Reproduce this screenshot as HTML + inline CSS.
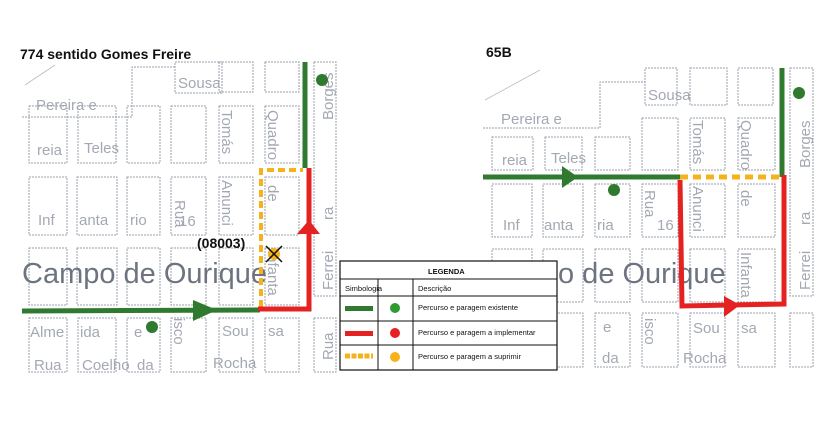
<!DOCTYPE html>
<html><head><meta charset="utf-8"><style>
body{margin:0;background:#fff;width:826px;height:430px;overflow:hidden}
svg{display:block}
.b{fill:none;stroke:#9aa0aa;stroke-width:1;stroke-dasharray:2 1}
.t{font-family:"Liberation Sans",sans-serif;fill:#a3a8b2;font-size:15px}
.c{font-family:"Liberation Sans",sans-serif;fill:#6d7480;font-size:29px}
.h{font-family:"Liberation Sans",sans-serif;font-weight:bold;fill:#111;font-size:14px}
.l{font-family:"Liberation Sans",sans-serif;fill:#111;font-size:7.5px}
</style></head><body>
<svg width="826" height="430" viewBox="0 0 826 430">
<text class="h" x="20" y="59">774 sentido Gomes Freire</text>
<text class="h" x="486" y="57">65B</text>

<!-- LEFT MAP -->
<g>
<polyline class="b" points="22,117 132,117 132,67 175,67"/>
<line x1="25" y1="85" x2="55" y2="65" stroke="#bbb" stroke-width="0.8"/>
<rect class="b" x="175" y="62" width="47" height="31"/>
<rect class="b" x="219" y="62" width="34" height="30"/>
<rect class="b" x="265" y="62" width="34" height="30"/>
<g>
<rect class="b" x="29" y="106" width="38" height="57"/><rect class="b" x="78" y="106" width="38" height="57"/>
<rect class="b" x="127" y="106" width="33" height="57"/><rect class="b" x="171" y="106" width="35" height="57"/>
<rect class="b" x="219" y="106" width="34" height="57"/><rect class="b" x="265" y="106" width="34" height="57"/>
</g>
<g>
<rect class="b" x="29" y="177" width="38" height="58"/><rect class="b" x="77" y="177" width="40" height="58"/>
<rect class="b" x="127" y="177" width="33" height="58"/><rect class="b" x="171" y="177" width="35" height="58"/>
<rect class="b" x="219" y="177" width="34" height="58"/><rect class="b" x="265" y="177" width="34" height="58"/>
</g>
<g>
<rect class="b" x="29" y="248" width="38" height="57"/><rect class="b" x="77" y="248" width="40" height="57"/>
<rect class="b" x="127" y="248" width="33" height="57"/><rect class="b" x="171" y="248" width="35" height="57"/>
<rect class="b" x="219" y="248" width="34" height="57"/><rect class="b" x="265" y="248" width="34" height="57"/>
</g>
<g>
<rect class="b" x="29" y="318" width="38" height="54"/><rect class="b" x="78" y="318" width="38" height="54"/>
<rect class="b" x="127" y="318" width="33" height="54"/><rect class="b" x="171" y="318" width="35" height="54"/>
<rect class="b" x="219" y="318" width="34" height="54"/><rect class="b" x="265" y="318" width="34" height="54"/>
</g>
<rect class="b" x="314" y="62" width="22" height="234"/>
<rect class="b" x="314" y="318" width="22" height="54"/>
<text class="t" x="178" y="88">Sousa</text>
<text class="t" x="36" y="110">Pereira e</text>
<text class="t" x="37" y="155">reia</text>
<text class="t" x="84" y="153">Teles</text>
<text class="t" x="38" y="225">Inf</text>
<text class="t" x="79" y="225">anta</text>
<text class="t" x="130" y="225">rio</text>
<text class="t" x="179" y="226">16</text>
<text class="t" transform="translate(175,200) rotate(90)">Rua</text>
<text class="t" transform="translate(222,110) rotate(90)">Tomás</text>
<text class="t" transform="translate(268,110) rotate(90)">Quadro</text>
<text class="t" transform="translate(222,180) rotate(90)">Anunci</text>
<text class="t" transform="translate(268,185) rotate(90)">de</text>
<text class="t" transform="translate(268,250) rotate(90)">Infanta</text>
<text class="t" transform="translate(333,120) rotate(-90)">Borges</text>
<text class="t" transform="translate(333,220) rotate(-90)">ra</text>
<text class="t" transform="translate(333,290) rotate(-90)">Ferrei</text>
<text class="t" transform="translate(333,360) rotate(-90)">Rua</text>
<text class="t" transform="translate(174,318) rotate(90)">isco</text>
<text class="t" x="30" y="337">Alme</text><text class="t" x="80" y="337">ida</text><text class="t" x="134" y="337">e</text>
<text class="t" x="222" y="336">Sou</text><text class="t" x="268" y="336">sa</text>
<text class="t" x="34" y="370">Rua</text><text class="t" x="82" y="370">Coelho</text><text class="t" x="137" y="370">da</text>
<text class="t" x="213" y="368">Rocha</text>
<text class="c" x="22" y="283">Campo de Ourique</text>
<polyline points="261,307 261,170 303,170" fill="none" stroke="#f6b21a" stroke-width="4" stroke-dasharray="7 4"/>
<line x1="22" y1="311" x2="260" y2="310" stroke="#2f7a2f" stroke-width="5"/>
<polygon points="193,300 217,310 193,321" fill="#2f7a2f"/>
<line x1="305" y1="62" x2="305" y2="168" stroke="#2f7a2f" stroke-width="5"/>
<polyline points="258,309 309,309 309,168" fill="none" stroke="#e52222" stroke-width="5"/>
<polygon points="297,234 309,220 320,234" fill="#e52222"/>
<circle cx="322" cy="80" r="6" fill="#2f7a2f"/>
<circle cx="152" cy="327" r="6" fill="#2f7a2f"/>
<circle cx="274" cy="254" r="6" fill="#f6b21a"/>
<path d="M266,246 L282,262 M282,246 L266,262" stroke="#111" stroke-width="1.5"/>
<text class="h" x="197" y="248">(08003)</text>
</g>

<!-- RIGHT MAP -->
<g>
<polyline class="b" points="483,128 600,128 600,82 645,82"/>
<line x1="485" y1="100" x2="540" y2="70" stroke="#bbb" stroke-width="0.8"/>
<rect class="b" x="645" y="68" width="32" height="37"/><rect class="b" x="690" y="68" width="37" height="37"/><rect class="b" x="738" y="68" width="35" height="37"/>
<g>
<rect class="b" x="492" y="137" width="41" height="33"/><rect class="b" x="545" y="137" width="37" height="33"/><rect class="b" x="595" y="137" width="35" height="33"/>
<rect class="b" x="642" y="118" width="36" height="52"/><rect class="b" x="690" y="118" width="35" height="52"/><rect class="b" x="738" y="118" width="37" height="52"/>
</g>
<g>
<rect class="b" x="492" y="184" width="40" height="53"/><rect class="b" x="543" y="184" width="40" height="53"/><rect class="b" x="595" y="184" width="35" height="53"/>
<rect class="b" x="642" y="184" width="36" height="53"/><rect class="b" x="690" y="184" width="35" height="53"/><rect class="b" x="738" y="184" width="37" height="53"/>
</g>
<g>
<rect class="b" x="492" y="249" width="40" height="53"/><rect class="b" x="543" y="249" width="40" height="53"/><rect class="b" x="595" y="249" width="35" height="53"/>
<rect class="b" x="642" y="249" width="36" height="53"/><rect class="b" x="690" y="249" width="35" height="53"/><rect class="b" x="738" y="249" width="37" height="53"/>
</g>
<g>
<rect class="b" x="543" y="313" width="40" height="54"/>
<rect class="b" x="595" y="313" width="35" height="54"/><rect class="b" x="642" y="313" width="36" height="54"/><rect class="b" x="690" y="313" width="35" height="54"/><rect class="b" x="738" y="313" width="37" height="54"/>
</g>
<rect class="b" x="790" y="68" width="23" height="228"/><rect class="b" x="790" y="313" width="23" height="54"/>
<text class="t" x="648" y="100">Sousa</text>
<text class="t" x="501" y="124">Pereira e</text>
<text class="t" x="502" y="165">reia</text>
<text class="t" x="551" y="163">Teles</text>
<text class="t" x="503" y="230">Inf</text>
<text class="t" x="544" y="230">anta</text>
<text class="t" x="597" y="230">ria</text>
<text class="t" x="657" y="230">16</text>
<text class="t" transform="translate(645,190) rotate(90)">Rua</text>
<text class="t" transform="translate(693,120) rotate(90)">Tomás</text>
<text class="t" transform="translate(741,120) rotate(90)">Quadro</text>
<text class="t" transform="translate(693,186) rotate(90)">Anunci</text>
<text class="t" transform="translate(741,190) rotate(90)">de</text>
<text class="t" transform="translate(741,252) rotate(90)">Infanta</text>
<text class="t" transform="translate(810,168) rotate(-90)">Borges</text>
<text class="t" transform="translate(810,225) rotate(-90)">ra</text>
<text class="t" transform="translate(810,290) rotate(-90)">Ferrei</text>
<text class="t" transform="translate(645,318) rotate(90)">isco</text>
<text class="t" x="693" y="333">Sou</text><text class="t" x="741" y="333">sa</text>
<text class="t" x="683" y="363">Rocha</text>
<text class="t" x="602" y="363">da</text>
<text class="t" x="603" y="332">e</text>
<text class="c" x="558" y="283">o de Ourique</text>
<line x1="483" y1="177" x2="682" y2="177" stroke="#2f7a2f" stroke-width="5"/>
<polygon points="562,166 578,177 562,188" fill="#2f7a2f"/>
<line x1="782" y1="68" x2="782" y2="177" stroke="#2f7a2f" stroke-width="5"/>
<line x1="680" y1="177" x2="782" y2="177" stroke="#f6b21a" stroke-width="5" stroke-dasharray="8 5"/>
<polyline points="680,180 682,306 784,304 784,175" fill="none" stroke="#e52222" stroke-width="5"/>
<polygon points="724,296 740,305 724,317" fill="#e52222"/>
<circle cx="799" cy="93" r="6" fill="#2f7a2f"/>
<circle cx="614" cy="190" r="6" fill="#2f7a2f"/>
</g>

<!-- LEGEND -->
<g>
<rect x="340" y="261" width="217" height="109" fill="#fff" stroke="#111" stroke-width="1.2"/>
<line x1="340" y1="279" x2="557" y2="279" stroke="#111"/>
<line x1="340" y1="296" x2="557" y2="296" stroke="#111"/>
<line x1="340" y1="321" x2="557" y2="321" stroke="#111"/>
<line x1="340" y1="345" x2="557" y2="345" stroke="#111"/>
<line x1="378" y1="279" x2="378" y2="370" stroke="#111"/>
<line x1="413" y1="279" x2="413" y2="370" stroke="#111"/>
<text class="l" x="428" y="274" font-weight="bold" font-size="8.5">LEGENDA</text>
<text class="l" x="345" y="291">Simbologia</text>
<text class="l" x="418" y="291">Descrição</text>
<text class="l" x="418" y="310">Percurso e paragem existente</text>
<text class="l" x="418" y="335">Percurso e paragem a implementar</text>
<text class="l" x="418" y="359">Percurso e paragem a suprimir</text>
<rect x="345" y="306" width="28" height="5" fill="#2f7a2f"/><circle cx="395" cy="308" r="5" fill="#2f9a2f"/>
<rect x="345" y="331" width="28" height="5" fill="#e52222"/><circle cx="395" cy="333" r="5" fill="#e52222"/>
<line x1="345" y1="356" x2="373" y2="356" stroke="#f6b21a" stroke-width="5" stroke-dasharray="5 1.5"/><circle cx="395" cy="357" r="5" fill="#f6b21a"/>
</g>
</svg>
</body></html>
